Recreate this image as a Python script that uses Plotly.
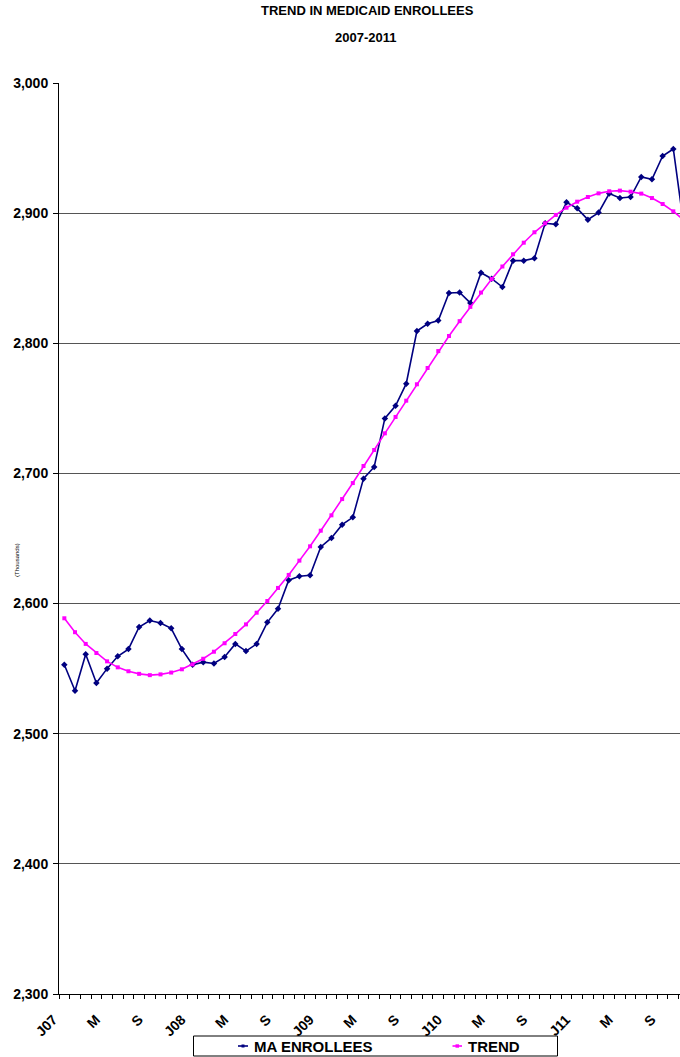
import plotly.graph_objects as go

# ---- data (thousands), monthly Jan 2007 .. Nov 2011 ----
ma_enrollees = [2553, 2533, 2561, 2539, 2550, 2559.5, 2565, 2582, 2587, 2585, 2581, 2565,
                2553, 2555, 2554, 2559, 2569, 2563.5, 2569, 2585.6, 2596, 2618, 2621, 2621.7,
                2643.5, 2650.4, 2660.6, 2666.3, 2696, 2705, 2742.3, 2752, 2769, 2809.4, 2815, 2817.5,
                2838.6, 2839, 2831, 2854.2, 2849.6, 2843.2, 2863.5, 2863.5, 2865.3, 2892.2, 2891.4, 2908.3,
                2903.7, 2895, 2900.4, 2915, 2911.6, 2912.4, 2927.8, 2926, 2943.9, 2949.3, 2889]
trend = [2588.7, 2578, 2569, 2562, 2555.6, 2551, 2548, 2546, 2545, 2545.6, 2547, 2549.5,
         2553.3, 2557.6, 2563, 2569.5, 2576.6, 2584, 2593, 2602, 2612, 2622, 2633, 2644,
         2656, 2667.8, 2680.3, 2692.6, 2705.7, 2718, 2730.8, 2743.4, 2755.9, 2768.5, 2781, 2794,
         2805.6, 2817, 2828, 2839, 2849.4, 2859, 2868.4, 2877.3, 2885.3, 2892.2, 2898.6, 2904.2,
         2908.8, 2912.4, 2915.2, 2916.8, 2917.3, 2916.5, 2915, 2911.6, 2907, 2901.4, 2894.6]
months = list(range(len(ma_enrollees)))
tick_positions = [0, 4, 8, 12, 16, 20, 24, 28, 32, 36, 40, 44, 48, 52, 56]
tick_labels = ["J07", "M", "S", "J08", "M", "S", "J09", "M", "S", "J10", "M", "S", "J11", "M", "S"]
series_names = ["MA ENROLLEES", "TREND"]

# ---- layout geometry (pixels) ----
W, H = 680, 1057
L, R, T, B = 59, 680, 83, 994
def px(x):
    return (x - L) / (R - L)
def py(y):
    return (B - y) / (B - T)

FONT = "Liberation Sans, Arial, sans-serif"
BLUE = "#000080"
MAG = "#FF00FF"

fig = go.Figure()
fig.add_trace(go.Scatter(x=months, y=ma_enrollees, mode="lines+markers", name=series_names[0],
                         line=dict(color=BLUE, width=1.6),
                         marker=dict(symbol="diamond", size=5, color=BLUE),
                         showlegend=False, cliponaxis=True))
fig.add_trace(go.Scatter(x=months, y=trend, mode="lines+markers", name=series_names[1],
                         line=dict(color=MAG, width=1.6),
                         marker=dict(symbol="square", size=4, color=MAG),
                         showlegend=False, cliponaxis=True))

cat_w = 10.684
fig.update_xaxes(range=[-0.5, -0.5 + (R - L) / cat_w],
                 tickmode="array", tickvals=tick_positions, ticktext=tick_labels,
                 tickangle=-45, ticks="", showgrid=False, zeroline=False,
                 showline=True, linecolor="black", linewidth=1,
                 tickfont=dict(family=FONT, size=14, color="black", weight="bold"),
                 ticklabelstandoff=11, ticklabelshift=-11,
                 minor=dict(tickmode="linear", tick0=-0.5, dtick=1, ticks="outside",
                            ticklen=4, tickcolor="black", tickwidth=1, showgrid=False))
fig.update_yaxes(range=[2300, 3000], dtick=100, tick0=2300, tickformat=",",
                 showgrid=True, gridcolor="#555555", gridwidth=1, zeroline=False,
                 showline=True, linecolor="black", linewidth=1,
                 ticks="outside", ticklen=5, tickcolor="black", ticklabelstandoff=2,
                 tickfont=dict(family=FONT, size=14, color="black", weight="bold"))

annotations = [
    dict(text="TREND IN MEDICAID ENROLLEES", x=px(367), y=py(11), xref="paper", yref="paper",
         showarrow=False, xanchor="center", yanchor="middle",
         font=dict(family=FONT, size=13, color="black", weight="bold")),
    dict(text="2007-2011", x=px(365), y=py(38), xref="paper", yref="paper",
         showarrow=False, xanchor="center", yanchor="middle",
         font=dict(family=FONT, size=13, color="black", weight="bold")),
    dict(text="(Thousands)", x=px(17), y=py(560), xref="paper", yref="paper",
         showarrow=False, xanchor="center", yanchor="middle", textangle=-90,
         font=dict(family=FONT, size=6, color="black")),
    dict(text=series_names[0], x=px(252), y=py(1046), xref="paper", yref="paper",
         showarrow=False, xanchor="left", yanchor="middle",
         font=dict(family=FONT, size=15, color="black", weight="bold")),
    dict(text=series_names[1], x=px(466), y=py(1046), xref="paper", yref="paper",
         showarrow=False, xanchor="left", yanchor="middle",
         font=dict(family=FONT, size=15, color="black", weight="bold")),
]

shapes = [
    dict(type="rect", xref="paper", yref="paper", x0=px(193.5), x1=px(557.5), y0=py(1056), y1=py(1036),
         line=dict(color="black", width=1), fillcolor="white"),
    dict(type="line", xref="paper", yref="paper", x0=px(238), x1=px(248), y0=py(1046), y1=py(1046),
         line=dict(color=BLUE, width=1.6)),
    dict(type="rect", xref="paper", yref="paper", x0=px(241.5), x1=px(244.5), y0=py(1047.5), y1=py(1044.5),
         line=dict(color=BLUE, width=0), fillcolor=BLUE),
    dict(type="line", xref="paper", yref="paper", x0=px(452.5), x1=px(462), y0=py(1046), y1=py(1046),
         line=dict(color=MAG, width=1.6)),
    dict(type="rect", xref="paper", yref="paper", x0=px(455.5), x1=px(459), y0=py(1047.7), y1=py(1044.3),
         line=dict(color=MAG, width=0), fillcolor=MAG),
]

fig.update_layout(width=W, height=H, margin=dict(l=L, r=W - R, t=T, b=H - B, pad=0),
                  paper_bgcolor="white", plot_bgcolor="white",
                  annotations=annotations, shapes=shapes, showlegend=False,
                  font=dict(family=FONT))

fig.write_html("out.html", config={"displayModeBar": False},
               post_script="document.body.style.margin='0';document.body.style.overflow='hidden';")
